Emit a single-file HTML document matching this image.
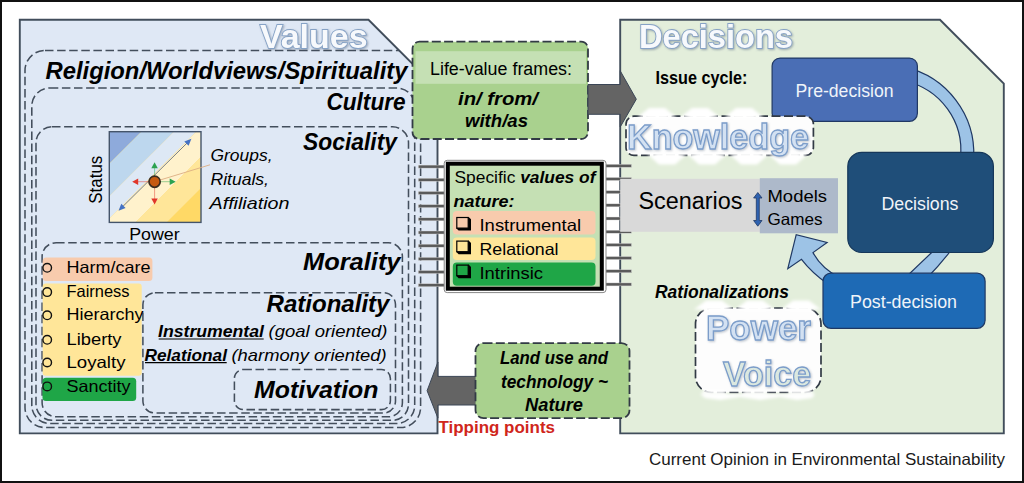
<!DOCTYPE html>
<html><head><meta charset="utf-8"><style>html,body{margin:0;padding:0;background:#fff;}svg{display:block;}</style></head>
<body><svg width="1024" height="483" viewBox="0 0 1024 483"><rect x="0" y="0" width="1024" height="483" fill="#fff"/>
<rect x="1" y="1" width="1022" height="481" fill="none" stroke="#111" stroke-width="2"/>
<polygon points="19.8,19.8 368.5,19.8 437.5,88.8 437.5,433.4 19.8,433.4" fill="#dfe8f5" stroke="#414d5b" stroke-width="1.9"/>
<polygon points="620.2,19.8 940,19.8 1003.8,83.6 1003.8,433.4 620.2,433.4" fill="#e3eedb" stroke="#414d5b" stroke-width="1.9"/>
<defs><filter id="glow" x="-10%" y="-30%" width="120%" height="160%"><feGaussianBlur in="SourceAlpha" stdDeviation="1.1"/><feOffset dx="0.8" dy="1.2" result="b"/><feFlood flood-color="#5f7086" flood-opacity="0.55"/><feComposite in2="b" operator="in"/><feMerge><feMergeNode/><feMergeNode in="SourceGraphic"/></feMerge></filter><filter id="wglow" x="-20%" y="-60%" width="140%" height="220%"><feMorphology in="SourceAlpha" operator="dilate" radius="5" result="d"/><feGaussianBlur in="d" stdDeviation="3" result="g"/><feComponentTransfer in="g" result="g2"><feFuncA type="linear" slope="1.6"/></feComponentTransfer><feFlood flood-color="#ffffff"/><feComposite in2="g2" operator="in" result="w"/><feGaussianBlur in="SourceAlpha" stdDeviation="0.8" result="s"/><feOffset in="s" dx="0.6" dy="1" result="so"/><feFlood flood-color="#6a7b90" flood-opacity="0.45"/><feComposite in2="so" operator="in" result="sh"/><feMerge><feMergeNode in="w"/><feMergeNode in="sh"/><feMergeNode in="SourceGraphic"/></feMerge></filter><filter id="blur15" x="-50%" y="-50%" width="200%" height="200%"><feGaussianBlur stdDeviation="1.6"/></filter><filter id="tshadow" x="-10%" y="-30%" width="120%" height="160%"><feGaussianBlur in="SourceAlpha" stdDeviation="0.9"/><feOffset dx="0.6" dy="1" result="so"/><feFlood flood-color="#6a7b90" flood-opacity="0.45"/><feComposite in2="so" operator="in"/><feMerge><feMergeNode/><feMergeNode in="SourceGraphic"/></feMerge></filter><clipPath id="lpclip"><polygon points="19.5,19.5 368.5,19.5 437.5,88.5 437.5,433.5 19.5,433.5"/></clipPath></defs>
<g font-family="Liberation Sans, sans-serif">
<text x="260" y="48" font-size="34" font-weight="bold" font-style="normal" fill="#f7f9fc" text-anchor="start" textLength="107.5" lengthAdjust="spacingAndGlyphs" stroke="#86a2c6" stroke-width="1.8" paint-order="stroke" filter="url(#glow)">Values</text>
<text x="639" y="48.3" font-size="34" font-weight="bold" font-style="normal" fill="#f7f9fc" text-anchor="start" textLength="154" lengthAdjust="spacingAndGlyphs" stroke="#86a2c6" stroke-width="1.8" paint-order="stroke" filter="url(#glow)">Decisions</text>
<g clip-path="url(#lpclip)">
<rect x="25" y="50.4" width="395.6" height="377.1" rx="20" ry="20" stroke="#434e5c" stroke-width="1.55" stroke-dasharray="8.5 3.6" fill="none"/>
<rect x="31.8" y="88" width="382.9" height="335.5" rx="18" ry="18" stroke="#434e5c" stroke-width="1.55" stroke-dasharray="8.5 3.6" fill="none"/>
<rect x="36" y="126.8" width="372.5" height="293.5" rx="16" ry="16" stroke="#434e5c" stroke-width="1.55" stroke-dasharray="8.5 3.6" fill="none"/>
<rect x="42.1" y="242.7" width="360.29999999999995" height="174.10000000000002" rx="14" ry="14" stroke="#434e5c" stroke-width="1.55" stroke-dasharray="8.5 3.6" fill="none"/>
<rect x="142.9" y="292.7" width="252.6" height="120.30000000000001" rx="12" ry="12" stroke="#434e5c" stroke-width="1.55" stroke-dasharray="8.5 3.6" fill="none"/>
<rect x="234.4" y="369.5" width="155.99999999999997" height="40.10000000000002" rx="9" ry="9" stroke="#434e5c" stroke-width="1.55" stroke-dasharray="8.5 3.6" fill="none"/>
</g>
<text x="45.5" y="78.7" font-size="23.1" font-weight="bold" font-style="italic" fill="#000" text-anchor="start" textLength="362" lengthAdjust="spacingAndGlyphs" >Religion/Worldviews/Spirituality</text>
<text x="326.5" y="110.4" font-size="23.1" font-weight="bold" font-style="italic" fill="#000" text-anchor="start" textLength="79" lengthAdjust="spacingAndGlyphs" >Culture</text>
<text x="303" y="149.9" font-size="23.1" font-weight="bold" font-style="italic" fill="#000" text-anchor="start" textLength="94" lengthAdjust="spacingAndGlyphs" >Sociality</text>
<text x="303" y="270.2" font-size="23.1" font-weight="bold" font-style="italic" fill="#000" text-anchor="start" textLength="97.5" lengthAdjust="spacingAndGlyphs" >Morality</text>
<text x="266.5" y="311.8" font-size="23.1" font-weight="bold" font-style="italic" fill="#000" text-anchor="start" textLength="123" lengthAdjust="spacingAndGlyphs" >Rationality</text>
<text x="254" y="398.0" font-size="23.1" font-weight="bold" font-style="italic" fill="#000" text-anchor="start" textLength="124.5" lengthAdjust="spacingAndGlyphs" >Motivation</text>
<clipPath id="chartclip"><rect x="109.3" y="131.7" width="91.7" height="90.7"/></clipPath>
<g clip-path="url(#chartclip)">
<rect x="109.3" y="131.7" width="91.7" height="90.7" fill="#ffd966"/>
<polygon points="108.3,131.7 141.3,131.7 -58.69999999999999,331.7 -91.7,331.7" fill="#8eaadb"/>
<polygon points="141.3,131.7 173.8,131.7 -26.19999999999999,331.7 -58.69999999999999,331.7" fill="#bdd7ee"/>
<polygon points="173.8,131.7 196.3,131.7 -3.6999999999999886,331.7 -26.19999999999999,331.7" fill="#dde8f5"/>
<polygon points="196.3,131.7 226.3,131.7 26.30000000000001,331.7 -3.6999999999999886,331.7" fill="#fff2cc"/>
<polygon points="226.3,131.7 257.3,131.7 57.30000000000001,331.7 26.30000000000001,331.7" fill="#ffe699"/>
</g>
<rect x="109.3" y="131.7" width="91.7" height="90.7" fill="none" stroke="#44546a" stroke-width="1.4"/>
<line x1="120.5" y1="208.8" x2="189.4" y2="140.7" stroke="#5b6878" stroke-width="0.85"/>
<polygon points="191.4,138.7 188.6,145.8 184.3,141.5" fill="#4472c4"/>
<polygon points="118.5,210.8 121.3,203.7 125.6,208.0" fill="#4472c4"/>
<line x1="154.6" y1="181.7" x2="210" y2="164.8" stroke="#dcae82" stroke-width="0.9"/>
<line x1="154.6" y1="181.7" x2="154.6" y2="166.3" stroke="#2ca24f" stroke-opacity="0.6" stroke-width="0.8"/>
<polygon points="154.6,162.3 157.8,168.3 151.3,168.3" fill="#2ca24f"/>
<line x1="154.6" y1="181.7" x2="171.7" y2="181.7" stroke="#2ca24f" stroke-opacity="0.6" stroke-width="0.8"/>
<polygon points="175.7,181.7 169.7,184.9 169.7,178.4" fill="#2ca24f"/>
<line x1="154.6" y1="181.7" x2="136.2" y2="181.7" stroke="#e0362a" stroke-opacity="0.6" stroke-width="0.8"/>
<polygon points="132.2,181.7 138.2,178.4 138.2,184.9" fill="#e0362a"/>
<line x1="154.6" y1="181.7" x2="154.6" y2="200.5" stroke="#e0362a" stroke-opacity="0.6" stroke-width="0.8"/>
<polygon points="154.6,204.5 151.3,198.5 157.8,198.5" fill="#e0362a"/>
<circle cx="154.6" cy="181.7" r="5.6" fill="#c55a11" stroke="#3a2c20" stroke-width="1.7"/>
<text transform="translate(102.2,179.7) rotate(-90)" font-size="17.5" text-anchor="middle" textLength="48" lengthAdjust="spacingAndGlyphs">Status</text>
<text x="129.2" y="240.0" font-size="16.8" font-weight="normal" font-style="normal" fill="#000" text-anchor="start" textLength="50.5" lengthAdjust="spacingAndGlyphs" >Power</text>
<text x="210.5" y="161.4" font-size="17.32" font-weight="normal" font-style="italic" fill="#000" text-anchor="start" textLength="62" lengthAdjust="spacingAndGlyphs" >Groups,</text>
<text x="210.5" y="185.1" font-size="17.32" font-weight="normal" font-style="italic" fill="#000" text-anchor="start" textLength="58.5" lengthAdjust="spacingAndGlyphs" >Rituals,</text>
<text x="209.5" y="208.6" font-size="17.32" font-weight="normal" font-style="italic" fill="#000" text-anchor="start" textLength="80" lengthAdjust="spacingAndGlyphs" >Affiliation</text>
<rect x="42.7" y="257.5" width="109.7" height="23.5" rx="3.5" ry="3.5" fill="#f8cbad"/>
<rect x="42.7" y="283.5" width="98.99999999999999" height="92.30000000000001" rx="3" ry="3" fill="#ffe699"/>
<rect x="42.5" y="377.7" width="93.69999999999999" height="23.30000000000001" rx="3.5" ry="3.5" fill="#1fa647"/>
<circle cx="47.2" cy="267.8" r="4.3" fill="none" stroke="#111" stroke-width="1.4"/>
<text x="66.5" y="272.9" font-size="17.32" font-weight="normal" font-style="normal" fill="#000" text-anchor="start" textLength="84" lengthAdjust="spacingAndGlyphs" >Harm/care</text>
<circle cx="47.2" cy="292.1" r="4.3" fill="none" stroke="#111" stroke-width="1.4"/>
<text x="66.5" y="297.2" font-size="17.32" font-weight="normal" font-style="normal" fill="#000" text-anchor="start" textLength="63" lengthAdjust="spacingAndGlyphs" >Fairness</text>
<circle cx="47.2" cy="315.3" r="4.3" fill="none" stroke="#111" stroke-width="1.4"/>
<text x="66.5" y="320.4" font-size="17.32" font-weight="normal" font-style="normal" fill="#000" text-anchor="start" textLength="77" lengthAdjust="spacingAndGlyphs" >Hierarchy</text>
<circle cx="47.2" cy="339.8" r="4.3" fill="none" stroke="#111" stroke-width="1.4"/>
<text x="66.5" y="344.9" font-size="17.32" font-weight="normal" font-style="normal" fill="#000" text-anchor="start" textLength="55" lengthAdjust="spacingAndGlyphs" >Liberty</text>
<circle cx="47.2" cy="362.5" r="4.3" fill="none" stroke="#111" stroke-width="1.4"/>
<text x="66.5" y="367.6" font-size="17.32" font-weight="normal" font-style="normal" fill="#000" text-anchor="start" textLength="59" lengthAdjust="spacingAndGlyphs" >Loyalty</text>
<circle cx="47.2" cy="386.40000000000003" r="4.3" fill="none" stroke="#111" stroke-width="1.4"/>
<text x="66.5" y="391.5" font-size="17.32" font-weight="normal" font-style="normal" fill="#000" text-anchor="start" textLength="64" lengthAdjust="spacingAndGlyphs" >Sanctity</text>
<text x="158" y="337.4" font-size="17.32" font-weight="bold" font-style="italic" fill="#000" text-anchor="start" textLength="106" lengthAdjust="spacingAndGlyphs" >Instrumental</text>
<line x1="158.7" y1="339" x2="263.7" y2="339" stroke="#000" stroke-width="1.2"/>
<text x="268.5" y="337.4" font-size="17.32" font-weight="normal" font-style="italic" fill="#000" text-anchor="start" textLength="119" lengthAdjust="spacingAndGlyphs" >(goal oriented)</text>
<text x="144.5" y="361.1" font-size="17.32" font-weight="bold" font-style="italic" fill="#000" text-anchor="start" textLength="82.5" lengthAdjust="spacingAndGlyphs" >Relational</text>
<line x1="145" y1="362.7" x2="226.7" y2="362.7" stroke="#000" stroke-width="1.2"/>
<text x="231.5" y="361.1" font-size="17.32" font-weight="normal" font-style="italic" fill="#000" text-anchor="start" textLength="155" lengthAdjust="spacingAndGlyphs" >(harmony oriented)</text>
<rect x="412.5" y="41.7" width="175.5" height="97.3" rx="7" ry="7" fill="#a9d18e" stroke="#323a45" stroke-width="1.8" stroke-dasharray="9 3.3"/>
<rect x="415.5" y="51.2" width="170.5" height="32.6" fill="#c5e0b4"/>
<text x="430" y="75.0" font-size="17.85" font-weight="normal" font-style="normal" fill="#000" text-anchor="start" textLength="142" lengthAdjust="spacingAndGlyphs" >Life-value frames:</text>
<text x="458" y="104.7" font-size="17.85" font-weight="bold" font-style="italic" fill="#000" text-anchor="start" textLength="80" lengthAdjust="spacingAndGlyphs" >in/ from/</text>
<text x="465" y="127.4" font-size="17.85" font-weight="bold" font-style="italic" fill="#000" text-anchor="start" textLength="63" lengthAdjust="spacingAndGlyphs" >with/as</text>
<polygon points="588,84.5 620.2,84.5 620.2,70.8 636.3,99.2 620.2,127 620.2,114.3 588,114.3" fill="#646464" stroke="#3b4656" stroke-width="1"/>
<rect x="418.3" y="165.1" width="27" height="3" fill="#5a5a5a" stroke="#dddddd" stroke-width="0.4"/>
<rect x="603" y="164.3" width="28.5" height="3" fill="#5a5a5a" stroke="#dddddd" stroke-width="0.4"/>
<rect x="418.3" y="178.28" width="27" height="3" fill="#5a5a5a" stroke="#dddddd" stroke-width="0.4"/>
<rect x="603" y="177.48000000000002" width="28.5" height="3" fill="#5a5a5a" stroke="#dddddd" stroke-width="0.4"/>
<rect x="418.3" y="191.45999999999998" width="27" height="3" fill="#5a5a5a" stroke="#dddddd" stroke-width="0.4"/>
<rect x="603" y="190.66000000000003" width="28.5" height="3" fill="#5a5a5a" stroke="#dddddd" stroke-width="0.4"/>
<rect x="418.3" y="204.64" width="27" height="3" fill="#5a5a5a" stroke="#dddddd" stroke-width="0.4"/>
<rect x="603" y="203.84" width="28.5" height="3" fill="#5a5a5a" stroke="#dddddd" stroke-width="0.4"/>
<rect x="418.3" y="217.82" width="27" height="3" fill="#5a5a5a" stroke="#dddddd" stroke-width="0.4"/>
<rect x="603" y="217.02" width="28.5" height="3" fill="#5a5a5a" stroke="#dddddd" stroke-width="0.4"/>
<rect x="418.3" y="231.0" width="27" height="3" fill="#5a5a5a" stroke="#dddddd" stroke-width="0.4"/>
<rect x="603" y="230.20000000000002" width="28.5" height="3" fill="#5a5a5a" stroke="#dddddd" stroke-width="0.4"/>
<rect x="418.3" y="244.18" width="27" height="3" fill="#5a5a5a" stroke="#dddddd" stroke-width="0.4"/>
<rect x="603" y="243.38" width="28.5" height="3" fill="#5a5a5a" stroke="#dddddd" stroke-width="0.4"/>
<rect x="418.3" y="257.36" width="27" height="3" fill="#5a5a5a" stroke="#dddddd" stroke-width="0.4"/>
<rect x="603" y="256.56" width="28.5" height="3" fill="#5a5a5a" stroke="#dddddd" stroke-width="0.4"/>
<rect x="418.3" y="270.53999999999996" width="27" height="3" fill="#5a5a5a" stroke="#dddddd" stroke-width="0.4"/>
<rect x="603" y="269.74" width="28.5" height="3" fill="#5a5a5a" stroke="#dddddd" stroke-width="0.4"/>
<rect x="418.3" y="283.72" width="27" height="3" fill="#5a5a5a" stroke="#dddddd" stroke-width="0.4"/>
<rect x="603" y="282.92" width="28.5" height="3" fill="#5a5a5a" stroke="#dddddd" stroke-width="0.4"/>
<line x1="444.8" y1="162" x2="444.8" y2="291" stroke="#555" stroke-width="1.2"/>
<rect x="444.2" y="160.3" width="161.8" height="132.3" rx="3" ry="3" fill="#fff" stroke="#888" stroke-width="1"/>
<rect x="447.8" y="163.7" width="154" height="125" fill="#c5e0b4" stroke="#000" stroke-width="4"/>
<text x="454.5" y="183.1" font-size="17.32" font-weight="normal" font-style="normal" fill="#000" text-anchor="start" textLength="141" lengthAdjust="spacingAndGlyphs" >Specific <tspan font-weight="bold" font-style="italic">values of</tspan></text>
<text x="453.5" y="207.2" font-size="17.32" font-weight="bold" font-style="italic" fill="#000" text-anchor="start" textLength="61" lengthAdjust="spacingAndGlyphs" >nature:</text>
<rect x="452.8" y="210.9" width="142.7" height="23.599999999999994" rx="4" ry="4" fill="#f8cbad"/>
<rect x="452.8" y="237.5" width="142.7" height="22.600000000000023" rx="4" ry="4" fill="#ffe699"/>
<rect x="452.8" y="262.5" width="142.7" height="23.19999999999999" rx="4" ry="4" fill="#1fa647"/>
<path d="M468.6,216.89999999999998 L471,219.29999999999998 L471,230.59999999999997 L458.6,230.59999999999997 L456.2,228.2 Z" fill="#000"/>
<rect x="456.8" y="217.49999999999997" width="11.4" height="10.6" fill="#f8cbad" stroke="#000" stroke-width="1.2"/>
<text x="479.5" y="230.9" font-size="17.32" font-weight="normal" font-style="normal" fill="#000" text-anchor="start" textLength="101.5" lengthAdjust="spacingAndGlyphs" >Instrumental</text>
<path d="M468.6,240.5 L471,242.9 L471,254.2 L458.6,254.2 L456.2,251.8 Z" fill="#000"/>
<rect x="456.8" y="241.1" width="11.4" height="10.6" fill="#ffe699" stroke="#000" stroke-width="1.2"/>
<text x="479.5" y="254.5" font-size="17.32" font-weight="normal" font-style="normal" fill="#000" text-anchor="start" textLength="79" lengthAdjust="spacingAndGlyphs" >Relational</text>
<path d="M468.6,264.5 L471,266.9 L471,278.2 L458.6,278.2 L456.2,275.8 Z" fill="#000"/>
<rect x="456.8" y="265.1" width="11.4" height="10.6" fill="#1fa647" stroke="#000" stroke-width="1.2"/>
<text x="479.5" y="278.5" font-size="17.32" font-weight="normal" font-style="normal" fill="#000" text-anchor="start" textLength="63.5" lengthAdjust="spacingAndGlyphs" >Intrinsic</text>
<polygon points="476,376.4 437.9,376.4 437.9,362.1 427.1,390.7 437.9,418.1 437.9,405 476,405" fill="#646464" stroke="#3b4656" stroke-width="1"/>
<rect x="475.5" y="343.1" width="154.0" height="75.0" rx="8" ry="8" fill="#a9d18e" stroke="#323a45" stroke-width="1.8" stroke-dasharray="9 3.3"/>
<text x="500" y="364.0" font-size="17.85" font-weight="bold" font-style="italic" fill="#000" text-anchor="start" textLength="108" lengthAdjust="spacingAndGlyphs" >Land use and</text>
<text x="501" y="387.7" font-size="17.85" font-weight="bold" font-style="italic" fill="#000" text-anchor="start" textLength="107" lengthAdjust="spacingAndGlyphs" >technology ~</text>
<text x="525" y="410.5" font-size="17.85" font-weight="bold" font-style="italic" fill="#000" text-anchor="start" textLength="58" lengthAdjust="spacingAndGlyphs" >Nature</text>
<text x="438.5" y="432.8" font-size="16.8" font-weight="bold" font-style="normal" fill="#d0261b" text-anchor="start" textLength="116.5" lengthAdjust="spacingAndGlyphs" >Tipping points</text>
<text x="655.5" y="84.1" font-size="17.85" font-weight="bold" font-style="normal" fill="#000" text-anchor="start" textLength="92" lengthAdjust="spacingAndGlyphs" >Issue cycle:</text>
<rect x="620.2" y="178.8" width="140" height="53" fill="#d9d9d9"/>
<rect x="759.8" y="178.2" width="78.2" height="55.1" fill="#adb9ca"/>
<text x="638.5" y="208.5" font-size="24.15" font-weight="normal" font-style="normal" fill="#000" text-anchor="start" textLength="104" lengthAdjust="spacingAndGlyphs" >Scenarios</text>
<text x="767.5" y="202.1" font-size="17.32" font-weight="normal" font-style="normal" fill="#000" text-anchor="start" textLength="59.5" lengthAdjust="spacingAndGlyphs" >Models</text>
<text x="767.5" y="224.7" font-size="17.32" font-weight="normal" font-style="normal" fill="#000" text-anchor="start" textLength="55" lengthAdjust="spacingAndGlyphs" >Games</text>
<polygon points="757.8,192.5 762,198 759.3,198 759.3,220.5 762,220.5 757.8,226.2 753.6,220.5 756.3,220.5 756.3,198 753.6,198" fill="#2f62b0" stroke="#1f3864" stroke-width="0.8"/>
<path d="M905,67.1 A88.8,88.8 0 0 1 973.7,158 L960.4,158 A70.5,70.5 0 0 0 905,81.25 Z" fill="#9dc3e6" stroke="#1f3864" stroke-width="1.2"/>
<path d="M953.5,247 Q942.25,262.4 926,279 L904,279 Q921.25,262.4 937.5,247 Z" fill="#9dc3e6" stroke="#1f3864" stroke-width="1.2"/>
<path d="M828,284 Q812,273 801.5,259.3 L787.8,268.7 L796.2,234.7 L827.1,242.5 L813,252.6 Q821,268 840,278 Z" fill="#9dc3e6" stroke="#1f3864" stroke-width="1.2"/>
<rect x="772.1" y="58.1" width="145.29999999999995" height="63.199999999999996" rx="8" ry="8" fill="#4a6eb5" stroke="#203864" stroke-width="1.2"/>
<rect x="847.8" y="152.4" width="145.60000000000002" height="100.1" rx="14" ry="14" fill="#1f4e79" stroke="#16375a" stroke-width="1.2"/>
<rect x="823" y="273.2" width="162.10000000000002" height="55.10000000000002" rx="8" ry="8" fill="#1e6ab5" stroke="#1f3864" stroke-width="1.2"/>
<text x="795.5" y="97.0" font-size="17.85" font-weight="normal" font-style="normal" fill="#f0f4f9" text-anchor="start" textLength="98" lengthAdjust="spacingAndGlyphs" >Pre-decision</text>
<text x="881.5" y="210.2" font-size="17.85" font-weight="normal" font-style="normal" fill="#f0f4f9" text-anchor="start" textLength="77" lengthAdjust="spacingAndGlyphs" >Decisions</text>
<text x="850" y="308.3" font-size="17.85" font-weight="normal" font-style="normal" fill="#f0f4f9" text-anchor="start" textLength="107" lengthAdjust="spacingAndGlyphs" >Post-decision</text>
<rect x="626" y="116.2" width="187.39999999999998" height="39.2" rx="8" ry="8" fill="#fdfdfd" stroke="#323a45" stroke-width="1.7" stroke-dasharray="9 3.5"/>
<g fill="#fff" filter="url(#blur15)"><polygon points="637,117.5 644,117.5 647,119 667,119 670,117.5 677,117.5 665,108 649,108"/><polygon points="680,117.5 687,117.5 690,119 710,119 713,117.5 720,117.5 708,108 692,108"/><polygon points="724,117.5 731,117.5 734,119 754,119 757,117.5 764,117.5 752,108 736,108"/><polygon points="647,154 654,154 657,152.5 677,152.5 680,154 687,154 675,164.5 659,164.5"/><polygon points="687,154 694,154 697,152.5 717,152.5 720,154 727,154 715,164.5 699,164.5"/><polygon points="729,154 736,154 739,152.5 759,152.5 762,154 769,154 757,164.5 741,164.5"/><polygon points="768,154 775,154 778,152.5 798,152.5 801,154 808,154 796,164.5 780,164.5"/></g>
<text x="627" y="148.7" font-size="35" font-weight="bold" font-style="normal" fill="#d3e1f2" text-anchor="start" textLength="182" lengthAdjust="spacingAndGlyphs" stroke="#7b9dca" stroke-width="1.3" filter="url(#tshadow)">Knowledge</text>
<text x="655" y="298.2" font-size="17.85" font-weight="bold" font-style="italic" fill="#000" text-anchor="start" textLength="134" lengthAdjust="spacingAndGlyphs" >Rationalizations</text>
<rect x="695.5" y="308" width="125.5" height="84.5" rx="16" ry="16" fill="#fdfdfd" stroke="#323a45" stroke-width="1.7" stroke-dasharray="9 3.5"/>
<g fill="#fff" filter="url(#blur15)"><polygon points="694,309.5 701,309.5 704,311 724,311 727,309.5 734,309.5 722,300.5 706,300.5"/><polygon points="704,390 724,390 727,393.5 701,393.5"/><polygon points="735,309.5 742,309.5 745,311 765,311 768,309.5 775,309.5 763,300.5 747,300.5"/><polygon points="745,390 765,390 768,393.5 742,393.5"/><polygon points="781,309.5 788,309.5 791,311 811,311 814,309.5 821,309.5 809,300.5 793,300.5"/><polygon points="791,390 811,390 814,393.5 788,393.5"/><polygon points="700,394 815,394 812,398 797,400 780,397 760,400 740,397 720,400 705,398"/></g>
<text x="706" y="339.6" font-size="35" font-weight="bold" font-style="normal" fill="#d3e1f2" text-anchor="start" textLength="105" lengthAdjust="spacingAndGlyphs" stroke="#7b9dca" stroke-width="1.3" filter="url(#tshadow)">Power</text>
<text x="723" y="386" font-size="35" font-weight="bold" font-style="normal" fill="#dbe8e0" text-anchor="start" textLength="88" lengthAdjust="spacingAndGlyphs" stroke="#7b9dca" stroke-width="1.3" filter="url(#tshadow)">Voice</text>
<text x="649" y="465" font-size="16.5" font-weight="normal" font-style="normal" fill="#1a1a1a" text-anchor="start" textLength="356" lengthAdjust="spacingAndGlyphs" >Current Opinion in Environmental Sustainability</text>
</g></svg></body></html>
